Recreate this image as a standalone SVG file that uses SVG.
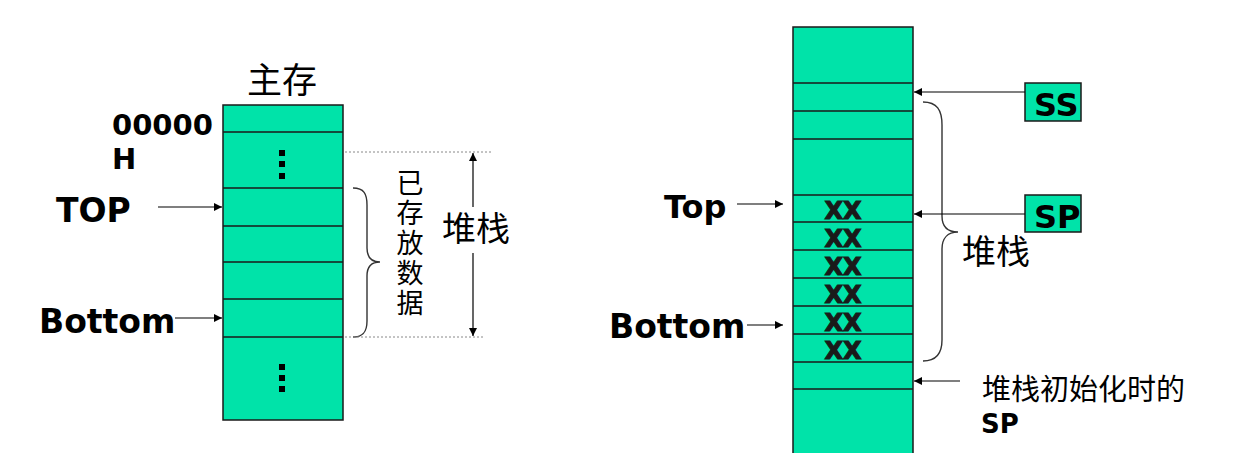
<svg xmlns="http://www.w3.org/2000/svg" width="1237" height="453" viewBox="0 0 1237 453">
<style>
.cell{fill:#00E3A9;stroke:#1a1a1a;stroke-width:1.5}
.div{stroke:#1a1a1a;stroke-width:1.5}
.lbl{font-family:"DejaVu Sans","Liberation Sans",sans-serif;font-weight:bold;fill:#000}
.xx{font-family:"DejaVu Sans","Liberation Sans",sans-serif;font-weight:bold;font-size:24px;fill:#1a1a1a;stroke:#1a1a1a;stroke-width:1.1;text-anchor:middle}
.cjk{font-family:"Noto Sans CJK SC",sans-serif;fill:#000}
.arr{stroke:#000;stroke-width:1.2;fill:none}
.dot{fill:#000}
.dash{stroke:#888;stroke-width:1;stroke-dasharray:2,2;fill:none}
.brace{stroke:#333;stroke-width:1.4;fill:none}
</style>
<defs>
<marker id="ah" viewBox="0 0 10 10" refX="10" refY="5" markerWidth="9" markerHeight="8" markerUnits="userSpaceOnUse" orient="auto">
<path d="M0,0 L10,5 L0,10 Z" fill="#000"/>
</marker>
</defs>

<g id="left-memory">
<rect class="cell" x="223" y="105" width="120" height="315"/>
<line class="div" x1="223" y1="132" x2="343" y2="132"/>
<line class="div" x1="223" y1="188" x2="343" y2="188"/>
<line class="div" x1="223" y1="226" x2="343" y2="226"/>
<line class="div" x1="223" y1="262" x2="343" y2="262"/>
<line class="div" x1="223" y1="299" x2="343" y2="299"/>
<line class="div" x1="223" y1="337" x2="343" y2="337"/>
<rect class="dot" x="279" y="150" width="6" height="6"/>
<rect class="dot" x="279" y="161" width="6" height="6"/>
<rect class="dot" x="279" y="173" width="6" height="6"/>
<rect class="dot" x="279" y="364" width="6" height="6"/>
<rect class="dot" x="279" y="375" width="6" height="6"/>
<rect class="dot" x="279" y="386" width="6" height="6"/>
</g>
<g id="title-main">
<text class="cjk" x="282" y="93" font-size="35" text-anchor="middle">主存</text>
</g>
<g id="addr-label">
<text class="lbl" x="112" y="135" font-size="29">00000</text>
<text class="lbl" x="112" y="169" font-size="29">H</text>
</g>
<g id="top-label">
<text class="lbl" x="56" y="222" font-size="33">TOP</text>
</g>
<g id="bottom-label">
<text class="lbl" x="39" y="333" font-size="33">Bottom</text>
</g>
<g id="stored-data">
<path class="brace" d="M353,188 C364,188 367,194 367,205 L367,248 C367,257 371,262 380,262 C371,262 367,267 367,276 L367,321 C367,332 363,337 353,337"/>
<text class="cjk" x="410" y="169" font-size="27" writing-mode="vertical-rl" letter-spacing="3">已存放数据</text>
</g>
<g id="stack-left">
<text class="cjk" x="476" y="241" font-size="34" text-anchor="middle">堆栈</text>
</g>

<g id="right-memory">
<rect class="cell" x="793" y="27" width="120" height="440"/>
<line class="div" x1="793" y1="83" x2="913" y2="83"/>
<line class="div" x1="793" y1="111" x2="913" y2="111"/>
<line class="div" x1="793" y1="139" x2="913" y2="139"/>
<line class="div" x1="793" y1="195" x2="913" y2="195"/>
<line class="div" x1="793" y1="222" x2="913" y2="222"/>
<line class="div" x1="793" y1="250" x2="913" y2="250"/>
<line class="div" x1="793" y1="278" x2="913" y2="278"/>
<line class="div" x1="793" y1="306" x2="913" y2="306"/>
<line class="div" x1="793" y1="334" x2="913" y2="334"/>
<line class="div" x1="793" y1="362" x2="913" y2="362"/>
<line class="div" x1="793" y1="389" x2="913" y2="389"/>
<text class="xx"><tspan x="843" y="219">XX</tspan><tspan x="843" y="247">XX</tspan><tspan x="843" y="275">XX</tspan><tspan x="843" y="303">XX</tspan><tspan x="843" y="331">XX</tspan><tspan x="843" y="359">XX</tspan></text>
</g>
<g id="top-label-r">
<text class="lbl" x="664" y="218" font-size="32">Top</text>
</g>
<g id="bottom-label-r">
<text class="lbl" x="609" y="338" font-size="33">Bottom</text>
</g>
<g id="ss-box">
<rect class="cell" x="1025" y="83" width="56" height="38"/>
<text class="lbl" x="1034" y="116" font-size="32" fill="#1a1a1a">SS</text>
</g>
<g id="sp-box">
<rect class="cell" x="1025" y="195" width="56" height="37"/>
<text class="lbl" x="1034" y="228" font-size="32" fill="#1a1a1a">SP</text>
</g>
<g id="stack-right">
<path class="brace" d="M923,102 C937,102 942,110 942,125 L942,216 C942,227 948,232 958,232 C948,232 942,238 942,249 L942,340 C942,354 936,361 923,361"/>
<text class="cjk" x="996" y="264" font-size="34" text-anchor="middle">堆栈</text>
</g>
<g id="init-sp">
<text class="cjk" x="982" y="400" font-size="29">堆栈初始化时的</text>
<text class="lbl" x="981" y="433" font-size="26">SP</text>
</g>

<g id="connectors">
<line class="arr" x1="158" y1="207" x2="222" y2="207" marker-end="url(#ah)"/>
<line class="arr" x1="175" y1="318" x2="222" y2="318" marker-end="url(#ah)"/>
<line class="dash" x1="345" y1="152" x2="492" y2="152"/>
<line class="dash" x1="345" y1="337" x2="484" y2="337"/>
<line class="arr" x1="473" y1="207" x2="473" y2="153" marker-end="url(#ah)"/>
<line class="arr" x1="473" y1="253" x2="473" y2="336" marker-end="url(#ah)"/>
<line class="arr" x1="737" y1="204" x2="783" y2="204" marker-end="url(#ah)"/>
<line class="arr" x1="747" y1="325" x2="783" y2="325" marker-end="url(#ah)"/>
<line class="arr" x1="1025" y1="92" x2="914" y2="92" marker-end="url(#ah)"/>
<line class="arr" x1="1025" y1="214" x2="914" y2="214" marker-end="url(#ah)"/>
<line class="arr" x1="960" y1="381" x2="914" y2="381" marker-end="url(#ah)"/>
</g>
</svg>
